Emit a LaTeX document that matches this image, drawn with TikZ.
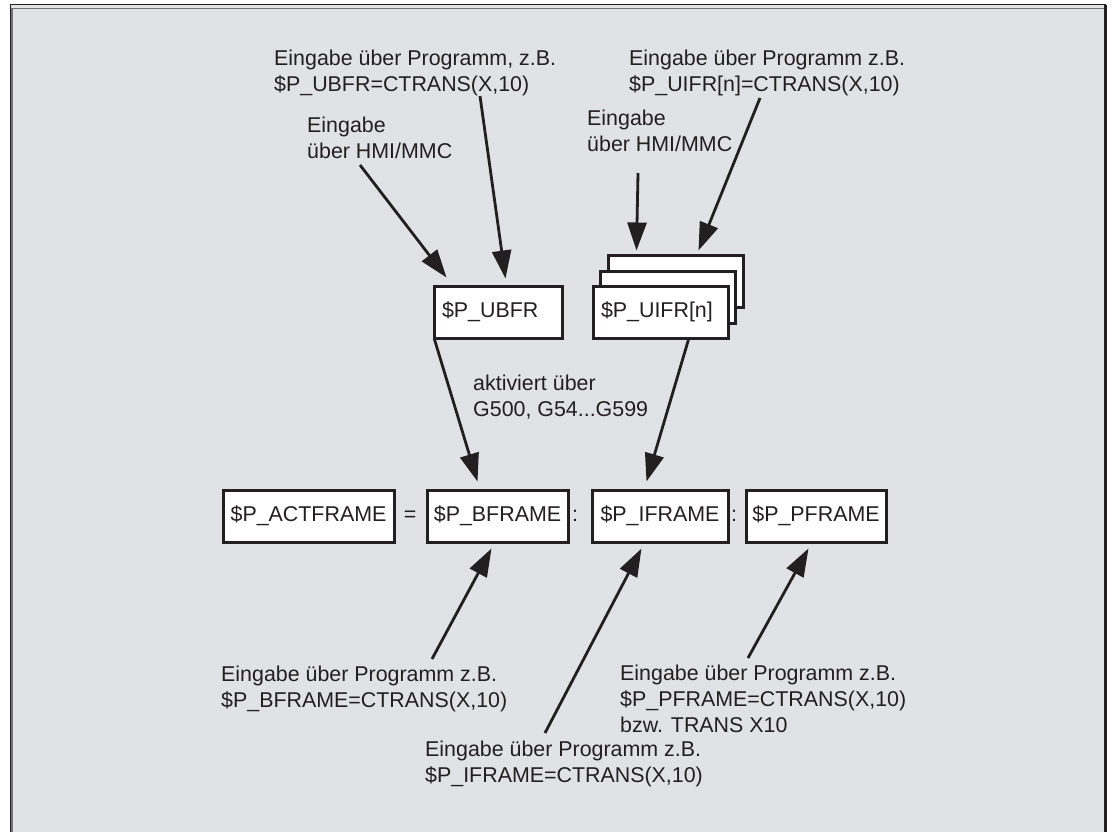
\documentclass[tikz,border=0pt]{standalone}
\usepackage{fontspec}
\setmainfont{Liberation Sans}
\usetikzlibrary{arrows.meta}
\definecolor{ink}{RGB}{35,31,32}
\definecolor{bg}{RGB}{225,226,230}
\begin{document}
\begin{tikzpicture}[x=1pt,y=-1pt,
  every node/.style={font=\fontsize{21.4}{26}\selectfont, text=ink},
  lbl/.style={anchor=base west, align=left, inner sep=0pt},
  frm/.style={draw=ink, fill=white, line width=3pt, minimum height=52pt, inner sep=0pt},
  frml/.style={frm, text width=#1, align=left, inner xsep=8pt},
  arr/.style={draw=ink, line width=2.8pt, -{Triangle[length=28pt,width=19pt]}}
]
\useasboundingbox (0,0) rectangle (1111,832);
\fill[white] (0,0) rectangle (1111,832);
\fill[bg] (10,5) rectangle (1106,840);
\draw[ink, line width=1pt] (10,840) -- (10,5) -- (1106,5);
\draw[black!55, line width=1.6pt] (12,840) -- (12,8.5) -- (1104,8.5);
\draw[ink, line width=2.4pt] (1105.5,5) -- (1105.5,840);

% upper boxes
\node[frml=112pt] (ubfr) at (498,312) {\$P\_UBFR};
\node[frm, minimum width=135pt] (uifrc) at (675.5,281) {};
\node[frm, minimum width=135pt] (uifrb) at (668,297) {};
\node[frml=119pt] (uifr) at (660.5,312) {\$P\_UIFR[n]};

% lower row
\node[frm, minimum width=171pt] (act) at (308.5,516) {\$P\_ACTFRAME};
\node (eq) at (410,516) {=};
\node[frm, minimum width=141pt] (bframe) at (497.5,516) {\$P\_BFRAME};
\node (c1) at (575,516) {:};
\node[frm, minimum width=136pt] (iframe) at (660,516) {\$P\_IFRAME};
\node (c2) at (734,516) {:};
\node[frm, minimum width=140pt] (pframe) at (816,516) {\$P\_PFRAME};

% labels (anchor = baseline of the last line)
\node[lbl] (t1) at (274,92) {Eingabe über Programm, z.B.\\\$P\_UBFR=CTRANS(X,10)};
\node[lbl] (t2) at (307,158) {Eingabe\\über HMI/MMC};
\node[lbl] (t3) at (629,92) {Eingabe über Programm z.B.\\\$P\_UIFR[n]=CTRANS(X,10)};
\node[lbl] (t4) at (587,152) {Eingabe\\über HMI/MMC};
\node[lbl] (t5) at (473,416) {aktiviert über\\G500, G54...G599};
\node[lbl] (t6) at (221,707) {Eingabe über Programm z.B.\\\$P\_BFRAME=CTRANS(X,10)};
\node[lbl] (t7) at (620,732) {Eingabe über Programm z.B.\\\$P\_PFRAME=CTRANS(X,10)\\bzw. TRANS X10};
\node[lbl] (t8) at (425,782) {Eingabe über Programm z.B.\\\$P\_IFRAME=CTRANS(X,10)};

% connector start points
\coordinate (s1) at (360,165);
\coordinate (s2) at (480,96);
\coordinate (s3) at (638,173);
\coordinate (s4) at (760,98);
\coordinate (s7) at (432,659);
\coordinate (s8) at (545,733);
\coordinate (s9) at (748,658);

% connectors
\draw[arr] (s1) -- ([xshift=14pt,yshift=7pt]ubfr.north west);
\draw[arr] (s2) -- ([xshift=73pt,yshift=6pt]ubfr.north west);
\draw[arr] (s3) -- ([xshift=30pt,yshift=3pt]uifrc.north west);
\draw[arr] (s4) -- ([xshift=92pt,yshift=3pt]uifrc.north west);
\draw[arr] ([xshift=2pt]ubfr.south west) -- ([xshift=52pt,yshift=7pt]bframe.north west);
\draw[arr] ([xshift=97pt]uifr.south west) -- ([xshift=56pt,yshift=7pt]iframe.north west);
\draw[arr] (s7) -- ([xshift=66pt,yshift=-5pt]bframe.south west);
\draw[arr] (s8) -- ([xshift=51pt,yshift=-5pt]iframe.south west);
\draw[arr] (s9) -- ([xshift=64pt,yshift=-5pt]pframe.south west);
\end{tikzpicture}
\end{document}
